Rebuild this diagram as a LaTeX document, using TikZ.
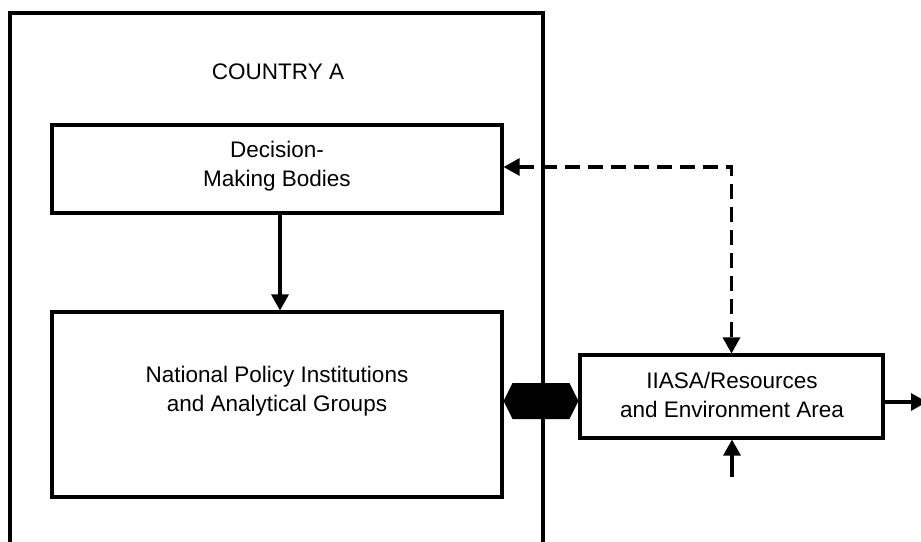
\documentclass[tikz,border=0pt]{standalone}
\usepackage{fontspec}
\setmainfont{Liberation Sans}
\usetikzlibrary{arrows.meta}
\begin{document}
\begin{tikzpicture}[x=1pt,y=-1pt,
  frame/.style={line width=3.1pt},
  box/.style={draw,line width=3.1pt,minimum width=450pt,align=center,inner sep=0pt,font=\fontsize{22.5}{29}\selectfont},
  lbl/.style={align=center,inner sep=0pt,font=\fontsize{22.5}{29}\selectfont},
  tip/.style={-{Triangle[length=16pt,width=17pt]}},
  conn/.style={line width=3.1pt},
  dashconn/.style={line width=3.1pt,dash pattern=on 15pt off 8pt}]
\useasboundingbox (0,0) rectangle (921,541);
% outer open frame for country A
\coordinate (oBL) at (10,545);
\coordinate (oTL) at (10,13);
\coordinate (oTR) at (543,13);
\coordinate (oBR) at (543,545);
\draw[frame] (oBL) -- (oTL) -- (oTR) -- (oBR);
\node[lbl] (country) at (278,72) {COUNTRY A};
\node[box,minimum height=88pt] (dec) at (277,169) {};
\node[lbl] (declbl) at (277,166) {Decision-\\Making Bodies};
\node[box,minimum height=185pt] (nat) at (277,404.5) {};
\node[lbl] (natlbl) at (277,391) {National Policy Institutions\\and Analytical Groups};
\node[box,minimum width=303pt,minimum height=83pt] (iiasa) at (731.5,396.5) {};
\node[lbl] (iiasalbl) at (732,395) {IIASA/Resources\\and Environment Area};
% connectors
\draw[conn,tip] ([xshift=3pt]dec.south) -- ([xshift=3pt]nat.north);
\draw[dashconn,{Triangle[length=16pt,width=17pt]}-{Triangle[length=16pt,width=17pt]}] ([yshift=2pt]dec.east) -| (iiasa.north);
\coordinate (outR) at (927,402);
\draw[conn,tip] (iiasa.east |- outR) -- (outR);
\coordinate (inB) at (732,477);
\draw[conn,tip] (inB) -- (inB |- iiasa.south);
% fat double arrow between national groups and IIASA
\coordinate (hL) at (nat.east |- 0,401);
\coordinate (hR) at (iiasa.west |- 0,401);
\fill (hL) -- ([shift={(9pt,-18pt)}]hL) -- ([shift={(-9pt,-18pt)}]hR) -- (hR) -- ([shift={(-9pt,18pt)}]hR) -- ([shift={(9pt,18pt)}]hL) -- cycle;
\end{tikzpicture}
\end{document}
